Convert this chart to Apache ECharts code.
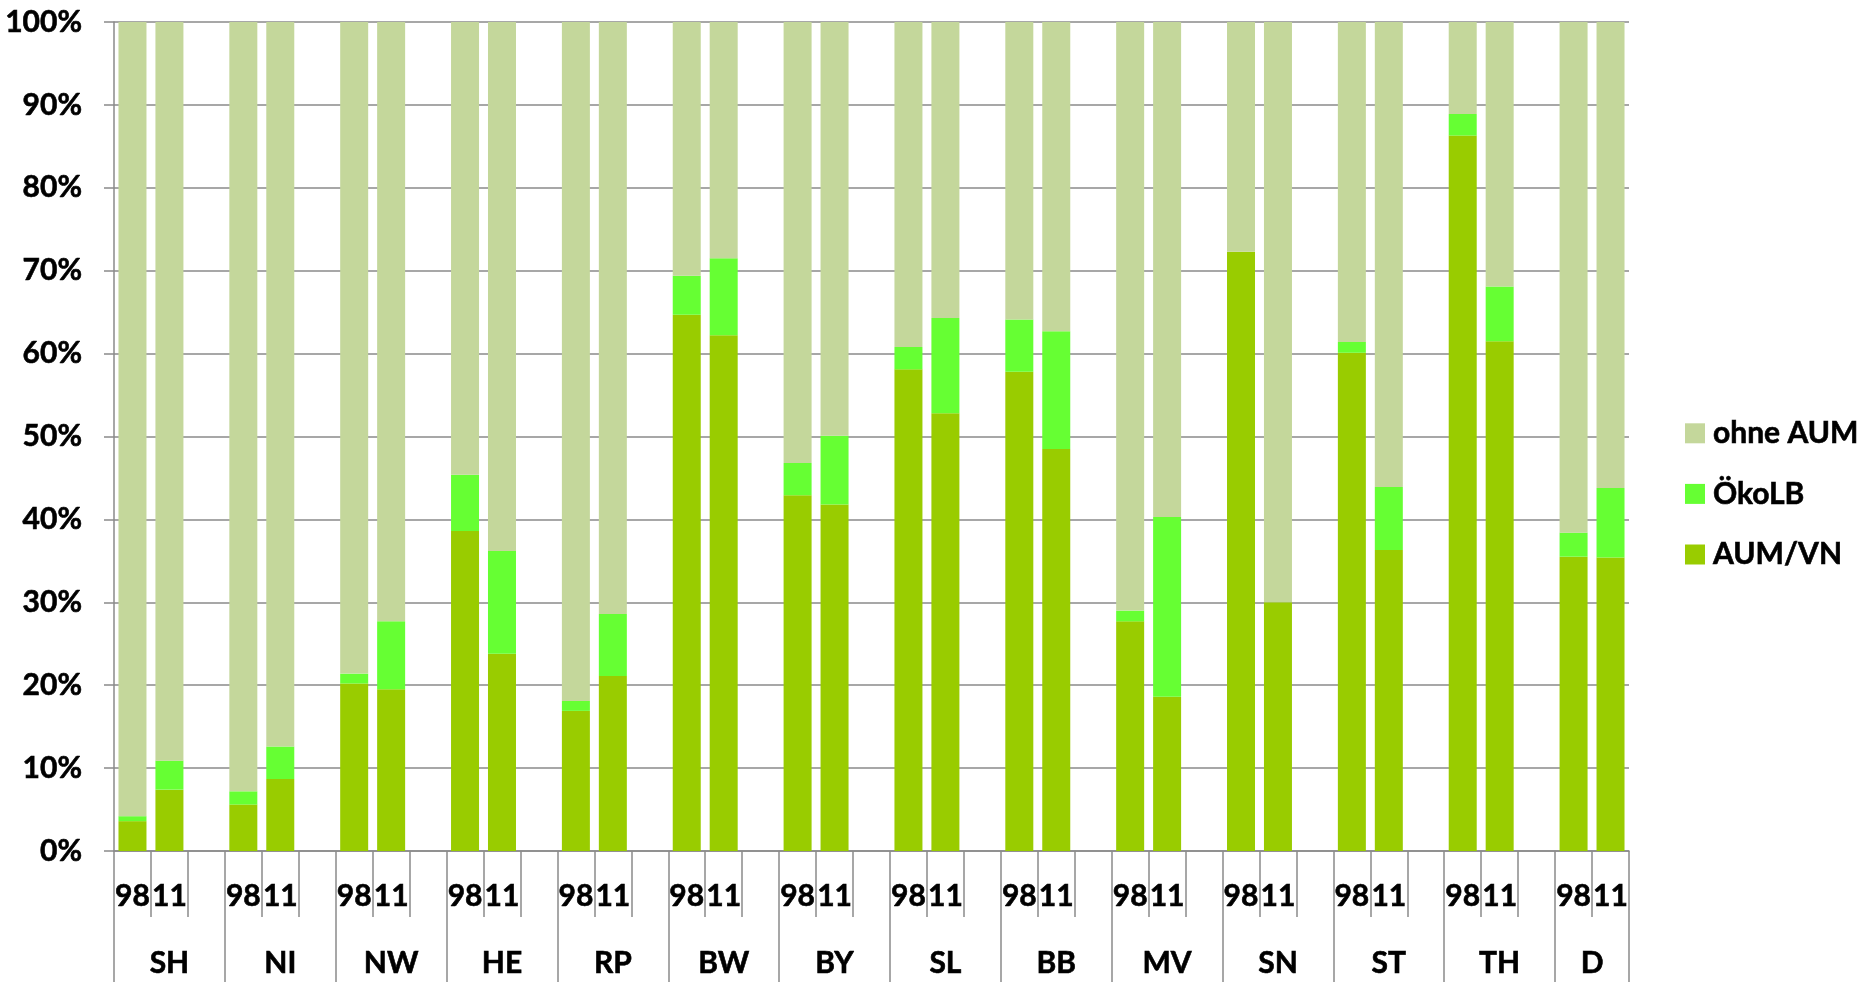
<!DOCTYPE html>
<html>
<head>
<meta charset="utf-8">
<script src="https://cdn.jsdelivr.net/npm/echarts@6/dist/echarts.min.js"></script>
<style>
  html, body { margin: 0; padding: 0; background: #ffffff; }
  #chart { width: 1874px; height: 982px; }
</style>
</head>
<body>
<div id="chart"></div>
<script>
// Federal states (and Germany overall), each with two survey years
const regions = ['SH', 'NI', 'NW', 'HE', 'RP', 'BW', 'BY', 'SL', 'BB', 'MV', 'SN', 'ST', 'TH', 'D'];
const years = ['98', '11'];

// Shares in percent, ordered region by region: [1998, 2011]
const aumVn   = [3.6, 7.4,  5.6, 8.7,  20.2, 19.5, 38.6, 23.8, 16.9, 21.1, 64.7, 62.2, 42.9, 41.8,
                 58.1, 52.8, 57.8, 48.5, 27.7, 18.6, 72.3, 30.0, 60.1, 36.3, 86.3, 61.5, 35.5, 35.4];
const oekoLb  = [0.6, 3.5,  1.6, 3.9,  1.2, 8.2,   6.8, 12.4,  1.2, 7.5,   4.7, 9.3,   3.9, 8.3,
                 2.7, 11.5,  6.3, 14.2,  1.3, 21.7,  0.0, 0.0,   1.3, 7.6,   2.6, 6.6,   2.9, 8.4];
const ohneAum = [95.8, 89.1, 92.8, 87.4, 78.6, 72.3, 54.6, 63.8, 81.9, 71.4, 30.6, 28.5, 53.2, 49.9,
                 39.2, 35.7, 35.9, 37.3, 71.0, 59.7, 27.7, 70.0, 38.6, 56.1, 11.1, 31.9, 61.6, 56.2];

const seriesNames = ['AUM/VN', 'ÖkoLB', 'ohne AUM'];
const legendOrder = ['ohne AUM', 'ÖkoLB', 'AUM/VN'];
const colors = { 'AUM/VN': '#99cc00', 'ÖkoLB': '#66ff33', 'ohne AUM': '#c4d79b' };

const FONT = 'Lato, "Open Sans", sans-serif';
const GRAY = '#8a8a8a';
const SLOT = 1515 / 41; // width of one category slot in pixels

// Build the slot list: two year bars per region, an empty slot between regions
const yearLabels = [], regionLabels = [];
const dAum = [], dOeko = [], dOhne = [];
let lastGroupStart = -1;
regions.forEach((r, i) => {
  const start = yearLabels.length;
  years.forEach((y, j) => {
    const k = i * years.length + j;
    yearLabels.push(y);
    regionLabels.push('');
    dAum.push(aumVn[k]);
    dOeko.push(oekoLb[k]);
    dOhne.push(ohneAum[k]);
  });
  if (i < regions.length - 1) {
    yearLabels.push('');
    regionLabels.push('');
    dAum.push('-'); dOeko.push('-'); dOhne.push('-');
    regionLabels[start + 1] = r;          // centre of a three-slot group
  } else {
    regionLabels[start] = r;              // two-slot group: shifted half a slot via rich padding
    lastGroupStart = start;
  }
});

// Heavy bold labels: bold face plus a thin same-colour outline
const labelFont = {
  fontFamily: FONT, fontWeight: 'bold', fontSize: 30, color: '#000000',
  textBorderColor: '#000000', textBorderWidth: 0.6
};

const chart = echarts.init(document.getElementById('chart'), null, { renderer: 'canvas' });
chart.setOption({
  animation: false,
  backgroundColor: '#ffffff',
  grid: { left: 114, right: 245, top: 22, bottom: 131, containLabel: false },
  legend: {
    orient: 'vertical',
    left: 1680,
    top: 413,
    data: legendOrder,
    icon: 'rect',
    itemWidth: 20,
    itemHeight: 20,
    itemGap: 30,
    selectedMode: false,
    textStyle: Object.assign({}, labelFont, { padding: [0, 0, 0, 3] })
  },
  xAxis: [
    {
      type: 'category',
      position: 'bottom',
      data: yearLabels,
      boundaryGap: true,
      axisLine: { show: true, lineStyle: { color: GRAY, width: 1.5 } },
      axisTick: { show: true, interval: 0, length: 66, lineStyle: { color: GRAY, width: 1.5 } },
      axisLabel: Object.assign({ interval: 0, margin: 30, hideOverlap: false }, labelFont),
      splitLine: { show: false }
    },
    {
      type: 'category',
      position: 'bottom',
      data: regionLabels,
      boundaryGap: true,
      axisLine: { show: false },
      axisTick: {
        show: true,
        interval: (index) => index % 3 === 0,
        length: 140,
        lineStyle: { color: GRAY, width: 1.5 }
      },
      axisLabel: Object.assign({
        interval: 0,
        margin: 97,
        hideOverlap: false,
        formatter: (value, index) => (index === lastGroupStart ? '{half|' + value + '}' : value),
        rich: { half: Object.assign({ padding: [0, 0, 0, SLOT] }, labelFont) }
      }, labelFont),
      splitLine: { show: false }
    }
  ],
  yAxis: {
    type: 'value',
    min: 0,
    max: 100,
    interval: 10,
    axisLine: { show: true, lineStyle: { color: GRAY, width: 1.5 } },
    axisTick: { show: true, length: 10, lineStyle: { color: GRAY, width: 1.5 } },
    axisLabel: Object.assign({ formatter: '{value}%', margin: 32 }, labelFont),
    splitLine: { show: true, lineStyle: { color: GRAY, width: 1.5 } }
  },
  series: [
    { name: seriesNames[0], data: dAum },
    { name: seriesNames[1], data: dOeko },
    { name: seriesNames[2], data: dOhne }
  ].map(s => ({
    name: s.name,
    type: 'bar',
    stack: 'share',
    xAxisIndex: 0,
    barWidth: 28,
    data: s.data,
    itemStyle: { color: colors[s.name] },
    emphasis: { disabled: true }
  }))
});
</script>
</body>
</html>
